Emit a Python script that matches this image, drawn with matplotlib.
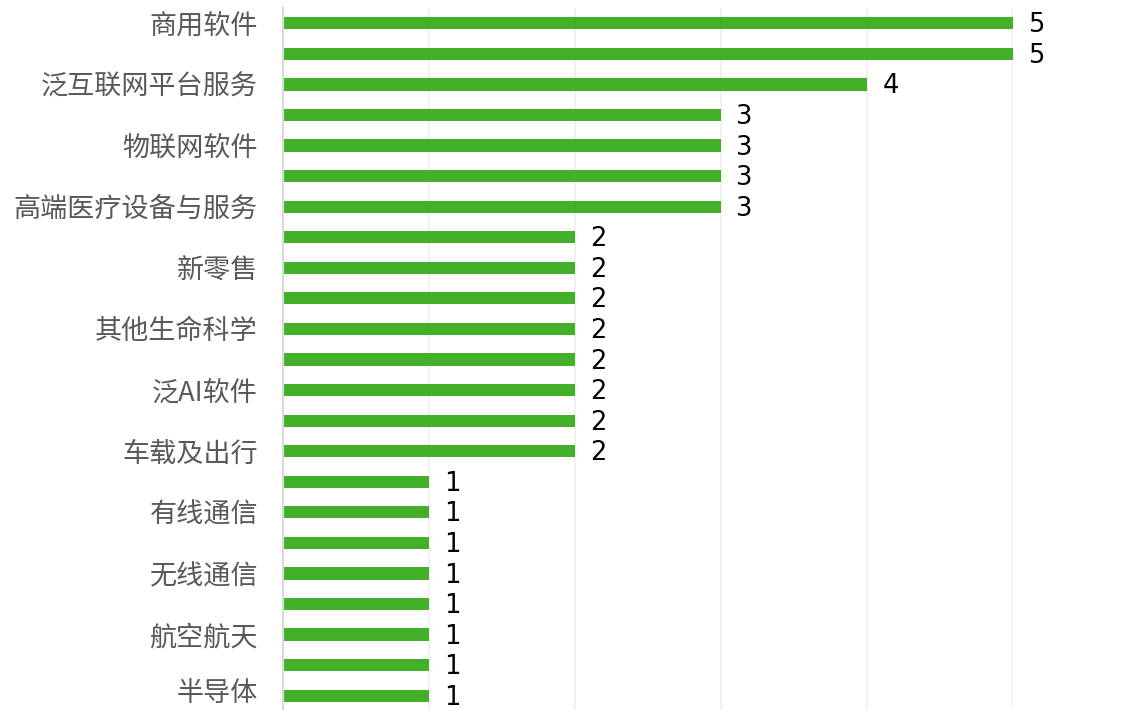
import matplotlib.pyplot as plt
import numpy as np

plt.rcParams['font.family'] = ['Noto Sans CJK SC', 'DejaVu Sans']

# every other category label is hidden in the original chart
categories = ['商用软件', '', '泛互联网平台服务', '', '物联网软件', '', '高端医疗设备与服务', '',
              '新零售', '', '其他生命科学', '', '泛AI软件', '', '车载及出行', '',
              '有线通信', '', '无线通信', '', '航空航天', '', '半导体']
values = [5, 5, 4, 3, 3, 3, 3, 2, 2, 2, 2, 2, 2, 2, 2, 1, 1, 1, 1, 1, 1, 1, 1]

W, H = 1142, 710
fig = plt.figure(figsize=(W / 100, H / 100), dpi=100)
ax = fig.add_axes([283 / W, -1 / H, 730 / W, 703 / H])

y = np.arange(len(values))
bars = ax.barh(y, values, height=0.4, color='#43B02A', zorder=3)

ax.set_ylim(len(values) - 0.5, -0.5)
ax.set_xlim(0, 5)
ax.set_xticks(range(0, 6))
ax.set_xticklabels([])
ax.set_yticks(y)
ax.set_yticklabels([])
ax.tick_params(axis='both', length=0)

# category labels, sitting slightly below the bar centre like the original
# (the last one is kept inside the figure edge)
for yi, name in zip(y, categories):
    if name:
        dy = -2.2 if yi < len(values) - 1 else 1.5
        ax.annotate(name, xy=(0, yi), xycoords=('axes fraction', 'data'),
                    xytext=(-18, dy), textcoords='offset points',
                    ha='right', va='center', fontsize=19.5, color='#595959',
                    annotation_clip=False)

ax.xaxis.grid(True, color='#efefef', linewidth=1.2, zorder=0)
for s in ['top', 'right', 'bottom']:
    ax.spines[s].set_visible(False)
ax.spines['left'].set_color('#d9d9d9')
ax.spines['left'].set_linewidth(1.6)
ax.spines['left'].set_zorder(4)

for yi, v in zip(y, values):
    ax.annotate(str(v), xy=(v, yi), xytext=(11, -1.5), textcoords='offset points',
                ha='left', va='center', fontsize=18.5, color='black',
                family='DejaVu Sans', annotation_clip=False)

plt.savefig('out.png', dpi=100)
